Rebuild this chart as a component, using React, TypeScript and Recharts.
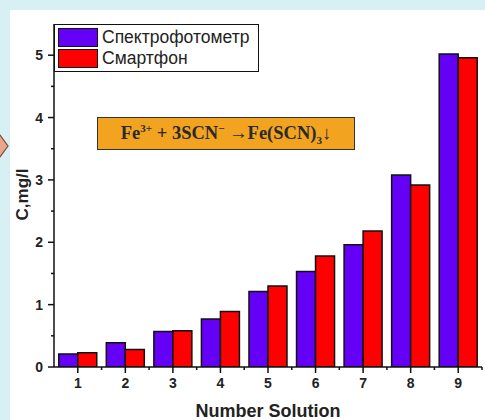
import { BarChart, Bar, XAxis, YAxis } from "recharts"

// sample numbers and the two measurement methods
const solutions = ["1", "2", "3", "4", "5", "6", "7", "8", "9"]
const spectro = [0.21, 0.39, 0.57, 0.77, 1.21, 1.53, 1.96, 3.08, 5.02]
const smartphone = [0.23, 0.28, 0.58, 0.89, 1.3, 1.78, 2.18, 2.92, 4.96]
const yTicks = [0, 0.5, 1, 1.5, 2, 2.5, 3, 3.5, 4, 4.5, 5]

const series = [
  { key: "spectro", name: "Спектрофотометр", color: "#6400f5" },
  { key: "phone", name: "Смартфон", color: "#ff0000" },
]

const data = solutions.map((n, i) => ({
  n,
  spectro: spectro[i],
  phone: smartphone[i],
}))

const SANS = "'Liberation Sans', Arial, sans-serif"
const SERIF = "'Liberation Serif', 'Times New Roman', serif"

function YTick(props: any) {
  const { x, y, payload } = props
  const major = Number.isInteger(payload.value)
  const edge = x + 11
  return (
    <g>
      <line x1={edge - (major ? 6 : 3)} x2={edge} y1={y} y2={y} stroke="#111" strokeWidth={1.5} />
      {major && (
        <text x={x} y={y} textAnchor="end" dominantBaseline="central" fontSize={14} fontWeight="bold" fill="#222" fontFamily={SANS}>
          {payload.value}
        </text>
      )}
    </g>
  )
}

function XTick(props: any) {
  const { x, y, payload } = props
  const top = y - 11
  const half = payload.offset ?? 0
  return (
    <g>
      <line x1={x} x2={x} y1={top} y2={top + 6} stroke="#111" strokeWidth={1.5} />
      <line x1={x + half} x2={x + half} y1={top} y2={top + 3} stroke="#111" strokeWidth={1.5} />
      <text x={x} y={y} dy="0.71em" textAnchor="middle" fontSize={14} fontWeight="bold" fill="#222" fontFamily={SANS}>
        {payload.value}
      </text>
    </g>
  )
}

export default function App() {
  return (
    <div style={{ position: "fixed", left: 0, top: 0, width: 485, height: 420, background: "#d8eff3", overflow: "hidden" }}>
      <div style={{ position: "absolute", left: 10, top: 10, right: 0, bottom: 0, background: "#fff" }} />
      <svg style={{ position: "absolute", left: 0, top: 133 }} width={10} height={26}>
        <polygon points="-6,2 0,2 8,13 0,24 -6,24" fill="#e9a68a" stroke="#7a4a35" strokeWidth={1.2} />
      </svg>

      <div style={{ position: "absolute", left: 0, top: 0 }}>
        <BarChart width={485} height={420} data={data} margin={{ top: 24, right: 3, bottom: 0, left: 0 }} barCategoryGap="10%" barGap={0}>
          <XAxis
            dataKey="n"
            height={53}
            tickSize={6}
            tickMargin={5}
            tickLine={false}
            tick={<XTick />}
            axisLine={{ stroke: "#111", strokeWidth: 1.5 }}
            label={{ value: "Number Solution", position: "insideBottom", offset: 3, fontSize: 18, fontWeight: "bold", fill: "#222", fontFamily: SANS }}
          />
          <XAxis xAxisId="top" dataKey="n" orientation="top" height={0} tick={false} tickLine={false} axisLine={{ stroke: "#111", strokeWidth: 1.5 }} />
          <YAxis
            width={54}
            domain={[0, 5.5]}
            ticks={yTicks}
            interval={0}
            allowDataOverflow
            tickSize={6}
            tickMargin={5}
            tickLine={false}
            tick={<YTick />}
            axisLine={{ stroke: "#111", strokeWidth: 1.5 }}
            label={{
              content: ({ viewBox }: any) => {
                const cx = viewBox.x + 22
                const cy = viewBox.y + viewBox.height / 2 - 1
                return (
                  <text x={cx} y={cy} transform={`rotate(-90, ${cx}, ${cy})`} textAnchor="middle" dominantBaseline="central" fontSize={17} fontWeight="bold" fill="#222" fontFamily={SANS}>
                    C,mg/l
                  </text>
                )
              },
            }}
          />
          <YAxis yAxisId="r" orientation="right" width={0} domain={[0, 5.5]} tick={false} tickLine={false} axisLine={{ stroke: "#111", strokeWidth: 1.5 }} />
          {series.map((s) => (
            <Bar key={s.key} dataKey={s.key} name={s.name} fill={s.color} stroke="#111" strokeWidth={1.5} isAnimationActive={false} />
          ))}
        </BarChart>
      </div>

      {/* legend box */}
      <div style={{ position: "absolute", left: 54, top: 24, width: 200, border: "1.5px solid #111", background: "#fff", padding: "2px 0 2px 3px", fontFamily: SANS, fontSize: 17.5, color: "#222" }}>
        {series.map((s) => (
          <div key={s.key} style={{ display: "flex", alignItems: "center", height: 21 }}>
            <span style={{ display: "inline-block", width: 38, height: 17, background: s.color, border: "1.5px solid #111", marginRight: 4 }} />
            <span>{s.name}</span>
          </div>
        ))}
      </div>

      {/* reaction annotation */}
      <div style={{ position: "absolute", left: 97, top: 117, width: 256, height: 31, border: "1.5px solid #333", background: "#f2a31f", display: "flex", alignItems: "center", justifyContent: "center", fontFamily: SERIF, fontWeight: "bold", fontSize: 18.5, color: "#2a2a2a" }}>
        <span>
          Fe<sup style={{ fontSize: 11 }}>3+</sup> + 3SCN<sup style={{ fontSize: 11 }}>−</sup> →Fe(SCN)<sub style={{ fontSize: 11 }}>3</sub>↓
        </span>
      </div>
    </div>
  )
}
